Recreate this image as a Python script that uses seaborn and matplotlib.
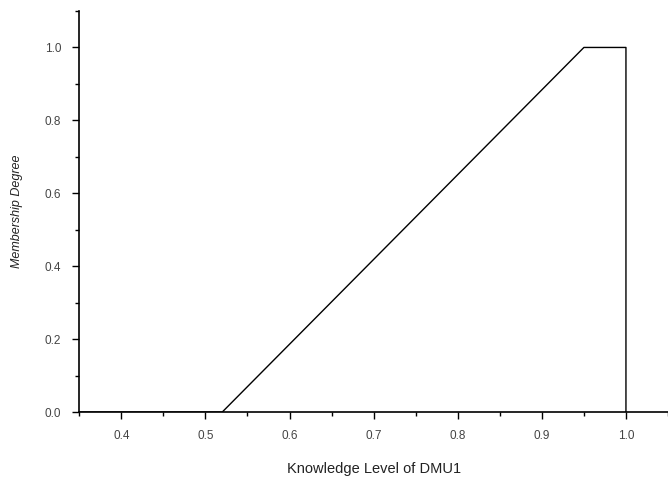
import matplotlib
matplotlib.use("Agg")
import matplotlib.pyplot as plt
import seaborn as sns
import pandas as pd
from matplotlib.ticker import MultipleLocator

# membership function breakpoints
knowledge = [0.35, 0.52, 0.95, 1.0, 1.0]
membership = [0.0, 0.0, 1.0, 1.0, 0.0]

df = pd.DataFrame({"knowledge": knowledge, "membership": membership})

sns.set_theme(style="ticks")
plt.rcParams["font.family"] = ["Liberation Sans", "DejaVu Sans"]

fig = plt.figure(figsize=(6.68, 4.78), dpi=100)
ax = fig.add_axes([0.1187, 0.138, 0.8813, 0.839])

sns.lineplot(data=df, x="knowledge", y="membership", sort=False, estimator=None,
             color="black", linewidth=1.0, ax=ax)

ax.set_xlim(0.35, 1.05)
ax.set_ylim(0.0, 1.1)
ax.xaxis.set_minor_locator(MultipleLocator(0.05))
ax.yaxis.set_minor_locator(MultipleLocator(0.1))
ax.set_xticks([0.4, 0.5, 0.6, 0.7, 0.8, 0.9, 1.0])
ax.set_yticks([0.0, 0.2, 0.4, 0.6, 0.8, 1.0])
ax.set_xticklabels(["0.4", "0.5", "0.6", "0.7", "0.8", "0.9", "1.0"])
ax.set_yticklabels(["0.0", "0.2", "0.4", "0.6", "0.8", "1.0"])

ax.tick_params(axis="both", which="major", length=5, width=1, color="black",
               labelsize=8.5, labelcolor="#444444", pad=8)
ax.tick_params(axis="both", which="minor", length=3, width=1, color="black")

for s in ["top", "right"]:
    ax.spines[s].set_visible(False)
for s in ["left", "bottom"]:
    ax.spines[s].set_linewidth(1.2)
    ax.spines[s].set_color("black")

ax.set_xlabel("Knowledge Level of DMU1", fontsize=10.5, color="#222222", labelpad=14)
ax.set_ylabel("Membership Degree", fontsize=9, style="italic", color="#222222", labelpad=16)

fig.savefig("out.png", dpi=100)
